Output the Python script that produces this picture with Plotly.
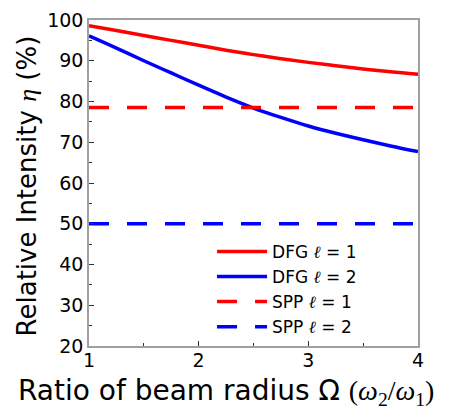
import plotly.graph_objects as go

# Ratio of beam radius
omega = [1.0, 1.25, 1.5, 1.75, 2.0, 2.25, 2.5, 2.75, 3.0, 3.25, 3.5, 3.75, 4.0]

# Relative intensity (%)
dfg_l1 = [98.6, 97.4, 96.2, 95.0, 93.8, 92.6, 91.5, 90.5, 89.6, 88.8, 88.0, 87.3, 86.7]
dfg_l2 = [96.1, 93.1, 90.0, 87.0, 84.0, 81.1, 78.4, 76.1, 74.0, 72.2, 70.6, 69.1, 67.7]
spp_l1 = [78.5, 78.5]
spp_l2 = [50.0, 50.0]
spp_x = [1.0, 4.0]

RED = "#ff0000"
BLUE = "#0000ff"
FONT = "DejaVu Sans, Arial, sans-serif"
SERIF = "font-family:'Liberation Serif','DejaVu Serif',serif"

fig = go.Figure()
series = [
    (omega, dfg_l1, "DFG", "1", RED, "solid"),
    (omega, dfg_l2, "DFG", "2", BLUE, "solid"),
    (spp_x, spp_l1, "SPP", "1", RED, "20px,18px"),
    (spp_x, spp_l2, "SPP", "2", BLUE, "20px,18px"),
]
for x, y, kind, l, color, dash in series:
    fig.add_trace(go.Scatter(
        x=x, y=y, mode="lines",
        name=f"{kind} <span style=\"{SERIF}\"><i>ℓ</i></span> = {l}",
        line=dict(color=color, width=3.5, dash=dash, shape="spline"),
    ))

axis_common = dict(
    showline=True, linecolor="#a0a0a0", linewidth=1.5, mirror=True,
    ticks="inside", ticklen=5, tickcolor="#333", tickwidth=1,
    showgrid=False, zeroline=False, automargin=False,
    tickfont=dict(size=19, color="black", family=FONT),
)

fig.update_xaxes(
    range=[1, 4], tickvals=[1, 2, 3, 4], ticklabelstandoff=-4,
    minor=dict(ticks="inside", ticklen=3, tickcolor="#333", dtick=0.5, tick0=1),
    **axis_common,
)
fig.update_yaxes(
    range=[20, 100], dtick=10,
    minor=dict(ticks="inside", ticklen=3, tickcolor="#333", dtick=5),
    **axis_common,
)

# axis titles as annotations so they can sit where the original has them
fig.add_annotation(
    text=f"Ratio of beam radius Ω <span style=\"{SERIF}\">(<i>ω</i><sub>2</sub>/<i>ω</i><sub>1</sub>)</span>",
    xref="paper", yref="paper", x=0.416, y=-0.141,
    xanchor="center", yanchor="middle", showarrow=False,
    font=dict(size=28, color="black", family=FONT),
)
fig.add_annotation(
    text=f"Relative Intensity <span style=\"{SERIF}\"><i>η</i></span> (%)",
    xref="paper", yref="paper", x=-0.188, y=0.49, textangle=-90,
    xanchor="center", yanchor="middle", showarrow=False,
    font=dict(size=26, color="black", family=FONT),
)

fig.update_layout(
    width=449, height=409,
    margin=dict(l=81, r=39, t=12, b=71),
    plot_bgcolor="white", paper_bgcolor="white",
    font=dict(family=FONT, color="black"),
    legend=dict(
        x=0.374, y=0.344, xanchor="left", yanchor="top",
        bgcolor="rgba(0,0,0,0)", font=dict(size=17),
        tracegroupgap=0, itemwidth=50,
    ),
)

fig.write_html("out.html")
